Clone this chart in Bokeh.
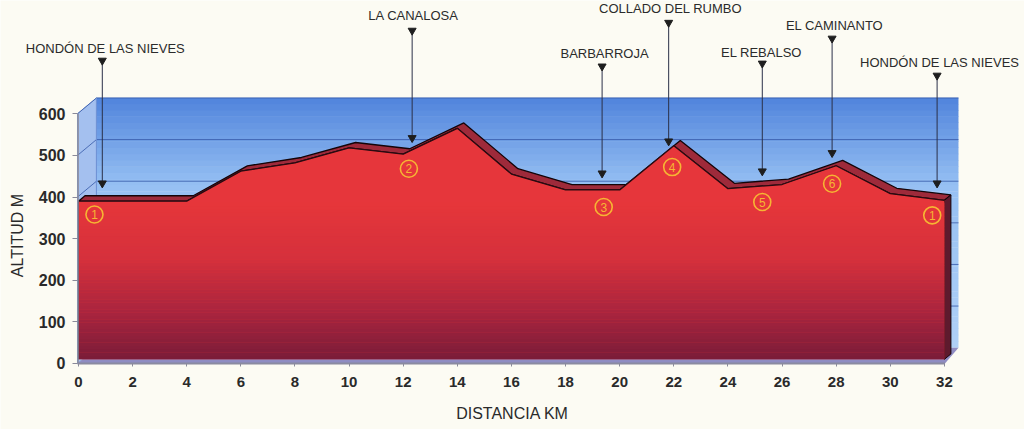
import numpy as np
from bokeh.plotting import figure
from bokeh.models import Range1d, FixedTicker
from bokeh.core.properties import value
from bokeh.embed import file_html
from bokeh.resources import INLINE

# ---------------- data ----------------
dist_km = [0, 2, 4, 6, 8, 10, 12, 14, 16, 18, 20, 22, 24, 26, 28, 30, 32]
alt_m = [390, 390, 390, 462, 482, 518, 503, 565, 455, 417, 417, 523, 420, 430, 475, 408, 392]

place_names = ["HONDÓN DE LAS NIEVES", "LA CANALOSA", "BARBARROJA", "COLLADO DEL RUMBO",
               "EL REBALSO", "EL CAMINANTO", "HONDÓN DE LAS NIEVES"]
place_km = [0.88, 12.33, 19.35, 21.81, 25.27, 27.85, 31.73]
place_tip_alt = [423, 532, 447, 524, 452, 496, 423]
label_km = [0.99, 12.38, 19.44, 21.88, 25.24, 27.94, 31.82]
label_alt = [757, 836, 745, 853, 747, 812, 723]
chevron_alt = [728, 800, 714, 819, 721, 781, 692]

stage_nums = ["1", "2", "3", "4", "5", "6", "1"]
stage_km = [0.59, 12.21, 19.41, 21.94, 25.27, 27.85, 31.55]
stage_alt = [358, 468, 376, 472, 388, 432, 356]

x_ticks = list(range(0, 33, 2))
y_ticks = [0, 100, 200, 300, 400, 500, 600]
x_title = "DISTANCIA KM"
y_title = "ALTITUD M"

# ---------------- figure ----------------
BG = "#fcfbf3"
X0 = -0.037
p = figure(width=1024, height=429, x_range=Range1d(-2.8825, 34.96), y_range=Range1d(-158.6, 872.2),
           output_backend="svg", toolbar_location=None,
           min_border_left=0, min_border_right=0, min_border_top=0, min_border_bottom=0)
p.background_fill_color = BG
p.border_fill_color = BG
p.outline_line_color = None
p.grid.visible = False

# 3D projection offsets (data units)
WDX, WDY = 0.70, 38.0     # wall depth
SDX, SDY = 0.24, 13.0     # slab depth
BASE = 10.0
xmax = dist_km[-1]

def lerp_color(stops, t):
    for (t0, c0), (t1, c1) in zip(stops[:-1], stops[1:]):
        if t0 <= t <= t1:
            f = (t - t0) / (t1 - t0) if t1 > t0 else 0
            c = [int(round(a + (b - a) * f)) for a, b in zip(c0, c1)]
            return "#%02x%02x%02x" % tuple(c)
    c = stops[-1][1] if t > stops[-1][0] else stops[0][1]
    return "#%02x%02x%02x" % tuple(c)

# back wall gradient
wall_lo, wall_hi = WDY, 600 + WDY
nb = 40
edges = np.linspace(wall_lo, wall_hi, nb + 1)
blue_stops = [(wall_lo, (175, 208, 246)), (430, (150, 192, 243)), (wall_hi, (80, 132, 220))]
p.quad(left=X0 + WDX, right=xmax + 0.52, bottom=edges[:-1], top=edges[1:] + 0.8,
       fill_color=[lerp_color(blue_stops, (a + b) / 2) for a, b in zip(edges[:-1], edges[1:])],
       line_color=None)
# left wall
p.patch([X0, X0, X0 + WDX, X0 + WDX], [0, 600, wall_hi, wall_lo],
        fill_color="#a4c0ef", line_color="#7f9fd8", line_width=1)
# floor
p.patch([X0, xmax + 0.02, xmax + 0.52, X0 + WDX], [0, 0, WDY, WDY],
        fill_color="#8f8cc2", line_color=None)
# gridlines on walls
for v in y_ticks[1:]:
    p.line([X0, X0 + WDX, xmax + 0.52], [v, v + WDY, v + WDY], line_color="#3557a8",
           line_width=1, line_alpha=0.8)
p.line([X0 + WDX, X0 + WDX], [wall_lo, wall_hi], line_color="#6f92d6", line_width=1)

# annotation pointer lines
for k, c, t in zip(place_km, chevron_alt, place_tip_alt):
    p.line([k, k], [c, t + 10], line_color="#2a3048", line_width=1)

# slab top face & right side
xs = np.array(dist_km, dtype=float)
ys = np.array(alt_m, dtype=float)
top_x = list(xs) + list((xs + SDX)[::-1])
top_y = list(ys) + list((ys + SDY)[::-1])
p.patch(top_x, top_y, fill_color="#9e2a3a", line_color="#140408", line_width=1.3)
p.patch([xmax, xmax, xmax + SDX, xmax + SDX], [BASE, ys[-1], ys[-1] + SDY, BASE + SDY],
        fill_color="#5e1a2d", line_color="#140408", line_width=1)

# front face
p.varea(x=dist_km, y1=[BASE] * len(dist_km), y2=alt_m, fill_color="#e6363b")
red_stops = [(BASE, (122, 28, 56)), (120, (168, 36, 62)), (250, (212, 48, 60)), (385, (230, 54, 58))]
re = np.linspace(BASE, 386, 48)
p.quad(left=0, right=xmax, bottom=re[:-1], top=re[1:] + 0.6,
       fill_color=[lerp_color(red_stops, (a + b) / 2) for a, b in zip(re[:-1], re[1:])],
       line_color=None)
p.line(dist_km, alt_m, line_color="#2a0a10", line_width=1.2)
p.line([0, 0], [BASE, alt_m[0]], line_color="#3a0c18", line_width=1)

# stage numbers
p.scatter(stage_km, stage_alt, marker="circle", size=17, fill_color=None,
          line_color="#f6b533", line_width=1.6)
p.text(stage_km, stage_alt, text=stage_nums, text_align="center", text_baseline="middle",
       text_font=value("Liberation Sans"), text_font_size="12px", text_color="#f6b533")

# annotation chevrons and labels
p.scatter(place_km, chevron_alt, marker="inverted_triangle", size=8, color="#1e1e1e")
p.scatter(place_km, [t + 10 for t in place_tip_alt], marker="inverted_triangle", size=8,
          color="#1e1e1e")
p.text(label_km, label_alt, text=place_names, text_align="center", text_baseline="middle",
       text_font=value("Liberation Sans"), text_font_size="13px", text_color="#2b2b2b")

# axis lines
p.line([X0 + 0.02, X0 + 0.02], [0, 600], line_color="#8a8a9a", line_width=1.5)
p.line([X0, xmax + 0.02], [0, 0], line_color="#8a8aa0", line_width=2)

# vertical axis title (placed beside the 0-600 scale)
p.text([-2.236], [307.5], text=[y_title], angle=np.pi / 2, text_align="center",
       text_baseline="middle", text_font=value("Liberation Sans"), text_font_size="16px",
       text_color="#2a2a2a")

# axes
xa = p.xaxis[0]
xa.fixed_location = 0
xa.ticker = FixedTicker(ticks=x_ticks)
xa.axis_line_color = None
xa.major_tick_out = 3
xa.major_tick_in = 0
xa.major_tick_line_color = "#8a8a9a"
xa.minor_tick_line_color = None
xa.major_label_standoff = 11
xa.major_label_text_font = "Liberation Sans"
xa.major_label_text_font_size = "15px"
xa.major_label_text_font_style = "bold"
xa.major_label_text_color = "#2a2a2a"
xa.axis_label = x_title
xa.axis_label_text_font = "Liberation Sans"
xa.axis_label_text_font_size = "16px"
xa.axis_label_text_font_style = "normal"
xa.axis_label_text_color = "#2a2a2a"
xa.axis_label_standoff = 14

ya = p.yaxis[0]
ya.fixed_location = X0
ya.ticker = FixedTicker(ticks=y_ticks)
ya.axis_line_color = None
ya.major_tick_out = 5
ya.major_tick_in = 0
ya.major_tick_line_color = "#8a8a9a"
ya.minor_tick_line_color = None
ya.major_label_standoff = 7
ya.major_label_text_font = "Liberation Sans"
ya.major_label_text_font_size = "16px"
ya.major_label_text_font_style = "bold"
ya.major_label_text_color = "#2a2a2a"

open("out.html", "w").write(file_html(p, INLINE))
